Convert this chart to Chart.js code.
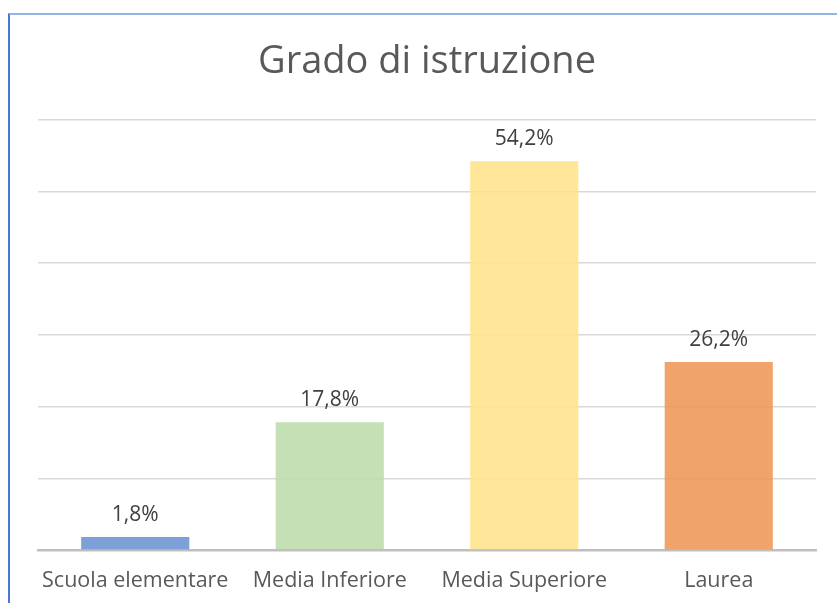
<!DOCTYPE html>
<html>
<head>
<meta charset="utf-8">
<script src="https://cdn.jsdelivr.net/npm/chart.js@4/dist/chart.umd.min.js"></script>
<style>
  html, body { margin: 0; padding: 0; background: #fff; }
  #wrap { position: relative; width: 837px; height: 603px; }
  #frame { position: absolute; left: 8px; top: 13px; right: -4px; bottom: -4px;
    border-top: 2px solid #97b2e4; border-left: 2px solid #4a78d4; }
  canvas { position: absolute; left: 0; top: 0; }
</style>
</head>
<body>
<div id="wrap">
  <div id="frame"></div>
  <canvas id="grafico" width="837" height="603"></canvas>
</div>
<script>
  // Dati del grafico
  const categorie = ["Scuola elementare", "Media Inferiore", "Media Superiore", "Laurea"];
  const percentuali = [1.8, 17.8, 54.2, 26.2];
  const colori = [
    'rgba(102, 143, 210, 0.85)',
    'rgba(187, 218, 167, 0.85)',
    'rgba(255, 226, 135, 0.85)',
    'rgba(237, 148, 82, 0.85)'
  ];

  // Etichette sopra le barre
  const etichette = {
    id: 'etichette',
    afterDatasetsDraw(chart) {
      const ctx = chart.ctx;
      const meta = chart.getDatasetMeta(0);
      ctx.save();
      ctx.font = '21px "Open Sans"';
      ctx.fillStyle = '#404040';
      ctx.textAlign = 'center';
      ctx.textBaseline = 'middle';
      meta.data.forEach((bar, i) => {
        const txt = percentuali[i].toFixed(1).replace('.', ',') + '%';
        ctx.fillText(txt, bar.x, bar.y - 22);
      });
      ctx.restore();
    }
  };

  new Chart(document.getElementById('grafico'), {
    type: 'bar',
    data: {
      labels: categorie,
      datasets: [{
        data: percentuali,
        backgroundColor: colori,
        borderWidth: 0,
        categoryPercentage: 1,
        barPercentage: 0.556
      }]
    },
    options: {
      responsive: false,
      animation: false,
      layout: { padding: { left: 38, right: 21, top: 39, bottom: 0 } },
      plugins: {
        legend: { display: false },
        tooltip: { enabled: false },
        title: {
          display: true,
          text: 'Grado di istruzione',
          color: '#595959',
          font: { family: '"Open Sans"', size: 38, weight: 'normal' },
          padding: { top: 0, bottom: 35 }
        }
      },
      scales: {
        y: {
          min: 0, max: 60,
          ticks: { display: false, stepSize: 10 },
          grid: { color: '#d9d9d9', lineWidth: 1.5, drawTicks: false },
          border: { display: false },
          afterFit(scale) { scale.width = 0; }
        },
        x: {
          grid: { display: false, drawTicks: false },
          border: { color: '#bfbfbf', width: 2.5 },
          ticks: {
            color: '#595959', padding: 18, maxRotation: 0, minRotation: 0, autoSkip: false,
            font: { family: '"Open Sans"', size: 21.5 }
          },
          afterFit(scale) {
            scale.height = 53;
            scale.paddingLeft = 0;
            scale.paddingRight = 0;
          }
        }
      }
    },
    plugins: [etichette]
  });
</script>
</body>
</html>
